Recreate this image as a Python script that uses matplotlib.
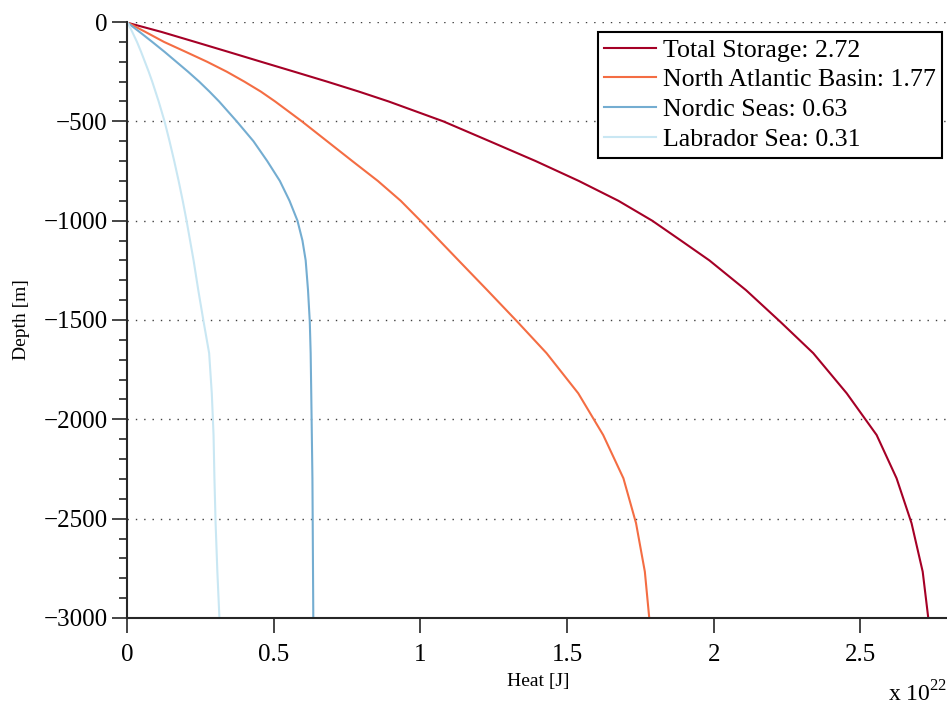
import numpy as np
import matplotlib
matplotlib.use('Agg')
import matplotlib.pyplot as plt
from matplotlib.ticker import MultipleLocator

plt.rcParams['font.family'] = ['Liberation Serif', 'DejaVu Serif']
plt.rcParams['mathtext.fontset'] = 'custom'
plt.rcParams['mathtext.rm'] = 'Liberation Serif'

# depth levels [m]
depth = [-5, -50, -100, -150, -200, -250, -300, -350, -400, -500, -600,
         -700, -800, -900, -1000, -1100, -1200, -1350, -1508, -1667, -1869,
         -2079, -2297, -2523, -2767, -3000]

# cumulative heat [x 1e22 J]
total = [0.005, 0.118, 0.232, 0.345, 0.457, 0.57, 0.682, 0.79, 0.892,
         1.078, 1.236, 1.393, 1.54, 1.675, 1.79, 1.888, 1.985, 2.11, 2.226,
         2.339, 2.453, 2.555, 2.623, 2.674, 2.712, 2.731]
natl = [0.005, 0.063, 0.126, 0.2, 0.273, 0.34, 0.40, 0.456, 0.505,
        0.596, 0.682, 0.768, 0.855, 0.933, 1.0, 1.065, 1.13, 1.228, 1.33,
        1.43, 1.538, 1.623, 1.692, 1.735, 1.765, 1.780]
nordic = [0.003, 0.043, 0.086, 0.128, 0.168, 0.208, 0.246, 0.281, 0.314,
          0.374, 0.431, 0.478, 0.521, 0.554, 0.581, 0.598, 0.609, 0.617,
          0.623, 0.626, 0.628, 0.630, 0.632, 0.633, 0.634, 0.635]
labrador = [0.003, 0.018, 0.034, 0.048, 0.061, 0.074, 0.086, 0.097, 0.108,
            0.128, 0.145, 0.161, 0.176, 0.19, 0.203, 0.215, 0.227, 0.243,
            0.261, 0.28, 0.289, 0.295, 0.298, 0.302, 0.308, 0.315]

labels = ['Total Storage: 2.72', 'North Atlantic Basin: 1.77',
          'Nordic Seas: 0.63', 'Labrador Sea: 0.31']
colors = ['#a50026', '#f46d43', '#74add1', '#c9e7f3']

fig = plt.figure(figsize=(9.47, 7.06), dpi=100)
ax = fig.add_axes([0.1341, 0.1247, 0.8675, 0.8441])

for x, lab, col in zip([total, natl, nordic, labrador], labels, colors):
    ax.plot(x, depth, color=col, linewidth=1.5, label=lab)

ax.set_xlim(0, 2.8)
ax.set_ylim(-3000, 0)
ax.set_xticks([0, 0.5, 1, 1.5, 2, 2.5])
ax.set_xticklabels(['0', '0.5', '1', '1.5', '2', '2.5'])
ax.set_yticks([0, -500, -1000, -1500, -2000, -2500, -3000])
ax.yaxis.set_minor_locator(MultipleLocator(100))

ax.spines['right'].set_visible(False)
ax.spines['top'].set_visible(False)
for s in ['left', 'bottom']:
    ax.spines[s].set_linewidth(1.5)
    ax.spines[s].set_color('#262626')

ax.tick_params(axis='y', which='major', direction='out', length=11, width=1.2,
               color='#262626', labelsize=18, pad=3)
ax.tick_params(axis='y', which='minor', direction='out', length=5.5, width=1.2,
               color='#262626')
ax.tick_params(axis='x', which='major', direction='out', length=11, width=1.2,
               color='#262626', labelsize=18, pad=8)

ax.yaxis.grid(True, color='0.25', linestyle=(0, (1, 5)), linewidth=1)
ax.set_axisbelow(True)

ax.set_xlabel('Heat [J]', fontsize=14, labelpad=5)
ax.set_ylabel('Depth [m]', fontsize=14, labelpad=10)

leg = ax.legend(loc='upper right', bbox_to_anchor=(0.992, 0.983),
                borderaxespad=0, fontsize=18.6, frameon=True, fancybox=False,
                edgecolor='black', handlelength=2.0, handletextpad=0.25,
                labelspacing=0.26, borderpad=0.25)
leg.get_frame().set_linewidth(1.5)
leg.get_frame().set_alpha(1)

fig.text(888/947, 1 - 701/706, r'x 10$^{22}$', fontsize=17, va='baseline')

plt.savefig('out.png', dpi=100)
